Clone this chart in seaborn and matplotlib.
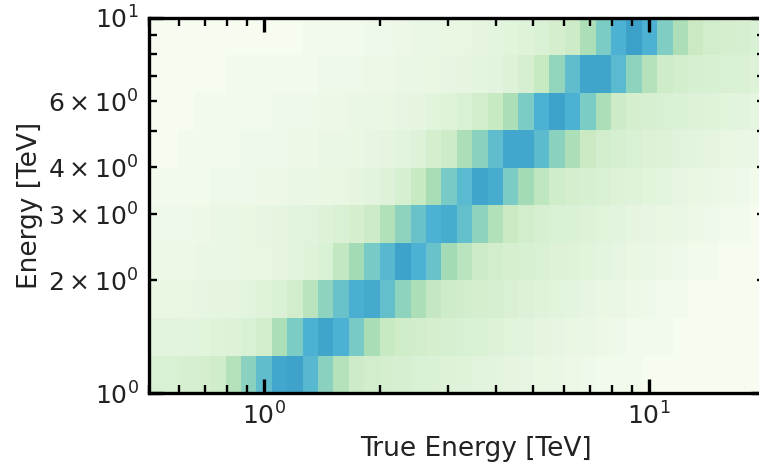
import numpy as np
import matplotlib
matplotlib.use("Agg")
import matplotlib.pyplot as plt
from matplotlib.colors import PowerNorm
import seaborn as sns

sns.set_style("ticks")

# Bin edges (TeV)
true_edges = np.logspace(np.log10(0.5), np.log10(20), 41)
reco_edges = np.logspace(0, 1, 11)

# Matrix values, one list per reco energy bin (bottom -> top)
row_0 = [0.03, 0.03, 0.035, 0.04, 0.05, 0.11, 0.21, 0.33, 0.44, 0.46,
         0.36, 0.21, 0.11, 0.06, 0.045, 0.04, 0.035, 0.03, 0.025, 0.022,
         0.018, 0.015, 0.012, 0.01, 0.008, 0.006, 0.004, 0.003, 0.002, 0.001,
         0.001, 0.001, 0.0, 0.0, 0.0, 0.0, 0.0, 0.0, 0.0, 0.0]
row_1 = [0.012, 0.012, 0.013, 0.014, 0.017, 0.02, 0.03, 0.045, 0.13, 0.25,
         0.4, 0.45, 0.4, 0.26, 0.14, 0.07, 0.05, 0.045, 0.04, 0.035,
         0.03, 0.025, 0.02, 0.016, 0.013, 0.01, 0.008, 0.006, 0.004, 0.003,
         0.002, 0.001, 0.001, 0.001, 0.0, 0.0, 0.0, 0.0, 0.0, 0.0]
row_2 = [0.006, 0.006, 0.007, 0.008, 0.009, 0.01, 0.013, 0.017, 0.025, 0.045,
         0.1, 0.2, 0.3, 0.41, 0.43, 0.32, 0.2, 0.13, 0.075, 0.055,
         0.045, 0.04, 0.033, 0.028, 0.023, 0.018, 0.014, 0.011, 0.008, 0.006,
         0.004, 0.003, 0.002, 0.001, 0.001, 0.0, 0.0, 0.0, 0.0, 0.0]
row_3 = [0.003, 0.003, 0.003, 0.004, 0.004, 0.005, 0.006, 0.007, 0.009, 0.012,
         0.018, 0.03, 0.08, 0.15, 0.26, 0.36, 0.46, 0.4, 0.3, 0.15,
         0.1, 0.06, 0.045, 0.038, 0.032, 0.027, 0.022, 0.018, 0.014, 0.011,
         0.008, 0.006, 0.004, 0.003, 0.002, 0.001, 0.001, 0.0, 0.0, 0.0]
row_4 = [0.002, 0.002, 0.002, 0.003, 0.004, 0.005, 0.006, 0.008, 0.01, 0.012,
         0.015, 0.02, 0.028, 0.04, 0.06, 0.12, 0.2, 0.3, 0.4, 0.42,
         0.32, 0.2, 0.12, 0.065, 0.045, 0.035, 0.03, 0.025, 0.02, 0.016,
         0.013, 0.01, 0.008, 0.006, 0.004, 0.003, 0.002, 0.001, 0.001, 0.0]
row_5 = [0.001, 0.001, 0.001, 0.001, 0.002, 0.002, 0.002, 0.003, 0.003, 0.004,
         0.005, 0.006, 0.007, 0.009, 0.012, 0.02, 0.035, 0.07, 0.14, 0.26,
         0.35, 0.45, 0.42, 0.25, 0.15, 0.09, 0.05, 0.04, 0.033, 0.027,
         0.022, 0.018, 0.014, 0.011, 0.008, 0.006, 0.004, 0.003, 0.002, 0.001]
row_6 = [0.0, 0.0, 0.001, 0.001, 0.001, 0.001, 0.002, 0.002, 0.002, 0.003,
         0.003, 0.004, 0.005, 0.006, 0.008, 0.01, 0.013, 0.02, 0.04, 0.06,
         0.13, 0.21, 0.33, 0.44, 0.44, 0.34, 0.21, 0.13, 0.065, 0.045,
         0.035, 0.028, 0.023, 0.019, 0.015, 0.012, 0.009, 0.007, 0.005, 0.004]
row_7 = [0.0, 0.0, 0.0, 0.001, 0.001, 0.001, 0.001, 0.001, 0.002, 0.002,
         0.002, 0.003, 0.003, 0.004, 0.005, 0.006, 0.008, 0.01, 0.014, 0.018,
         0.03, 0.045, 0.07, 0.13, 0.25, 0.4, 0.46, 0.4, 0.25, 0.13,
         0.06, 0.04, 0.035, 0.03, 0.025, 0.02, 0.017, 0.014, 0.012, 0.01]
row_8 = [0.0, 0.0, 0.0, 0.0, 0.0, 0.001, 0.001, 0.001, 0.001, 0.001,
         0.001, 0.002, 0.002, 0.002, 0.003, 0.003, 0.004, 0.005, 0.006, 0.008,
         0.01, 0.011, 0.013, 0.02, 0.035, 0.07, 0.19, 0.33, 0.45, 0.45,
         0.35, 0.2, 0.11, 0.055, 0.042, 0.036, 0.032, 0.028, 0.025, 0.022]
row_9 = [0.0, 0.0, 0.0, 0.0, 0.0, 0.0, 0.0, 0.0, 0.0, 0.0,
         0.001, 0.001, 0.001, 0.001, 0.002, 0.002, 0.003, 0.004, 0.005, 0.006,
         0.007, 0.009, 0.011, 0.014, 0.018, 0.025, 0.04, 0.06, 0.13, 0.25,
         0.4, 0.47, 0.4, 0.24, 0.13, 0.065, 0.045, 0.04, 0.035, 0.03]

matrix = np.array([row_0, row_1, row_2, row_3, row_4,
                   row_5, row_6, row_7, row_8, row_9])

fig = plt.figure(figsize=(7.59, 4.70), dpi=100)
# right edge of the axes sits just past the figure edge, as in the reference crop
ax = fig.add_axes([0.1957, 0.1638, 0.8123, 0.798])
ax.set_axisbelow(False)

cmap = sns.color_palette("GnBu", as_cmap=True)
ax.pcolormesh(true_edges, reco_edges, matrix, cmap=cmap,
              norm=PowerNorm(gamma=0.5, vmin=0, vmax=1))

ax.set_xscale("log")
ax.set_yscale("log")
ax.set_xlim(true_edges[0], true_edges[-1])
ax.set_ylim(reco_edges[0], reco_edges[-1])

ax.set_xlabel("True Energy [TeV]", fontsize=19, color="#222222")
ax.set_ylabel("Energy [TeV]", fontsize=19, color="#222222")
ax.xaxis.set_label_coords(0.531, -0.115)

for side in ax.spines.values():
    side.set_linewidth(2.4)
    side.set_color("black")
ax.tick_params(which="both", direction="in", top=True, right=True,
               labelsize=18, color="black", labelcolor="#222222", pad=7)
ax.tick_params(which="major", length=10, width=2.4)
ax.tick_params(which="minor", length=6, width=1.7)

fig.savefig("out.png", dpi=100)
